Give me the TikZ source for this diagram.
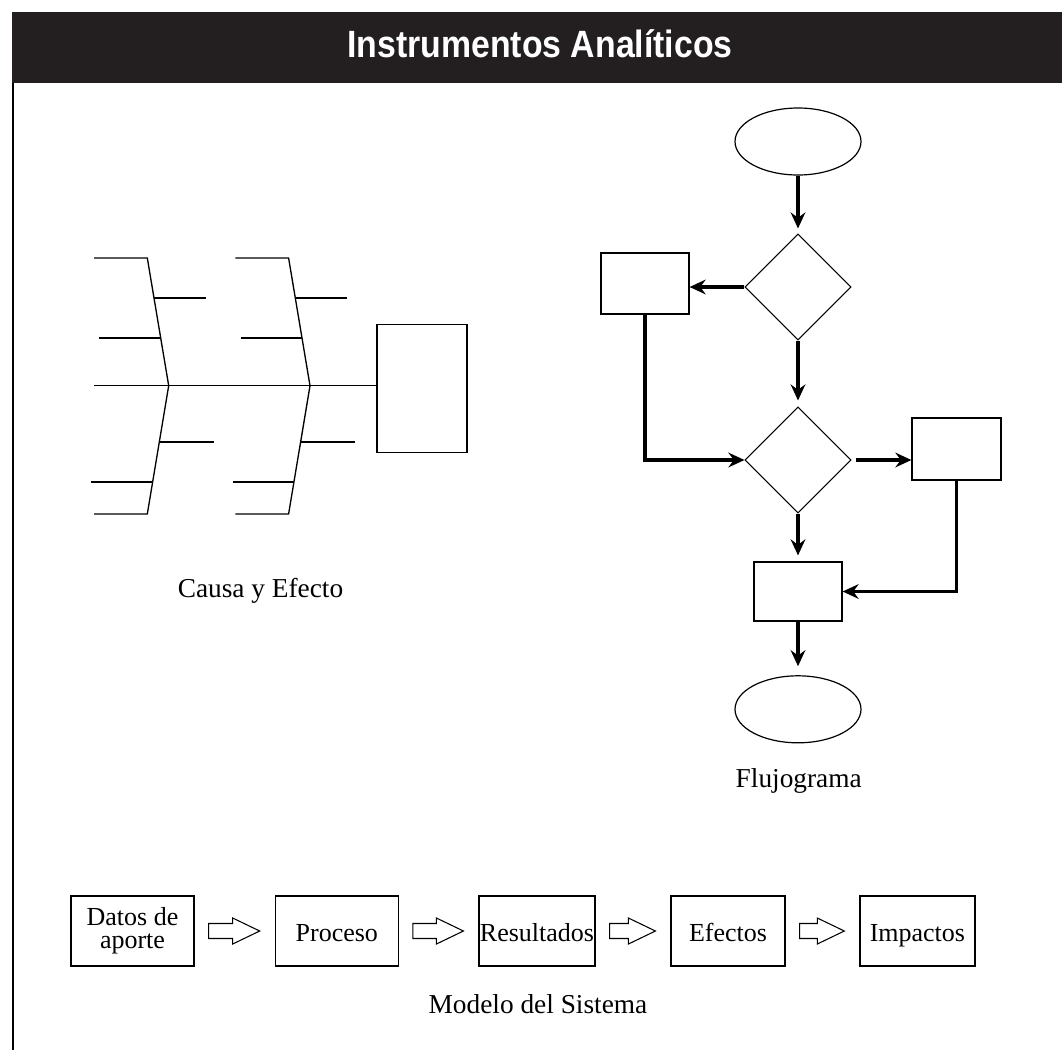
\documentclass[tikz,border=0pt]{standalone}
\usepackage{fontspec}
\setmainfont{Liberation Serif}
\newfontfamily\titulofont{Liberation Sans}
\usepackage{tikz}
\usepackage{tkz-euclide}
\usepackage{xcolor}
\usetikzlibrary{shapes.geometric,arrows.meta,calc}

\definecolor{fundo}{HTML}{231F20}
\newlength{\unid}\setlength{\unid}{0.75pt}

%Seta vazada entre duas caixas do modelo do sistema: comeca 14 unidades depois da primeira caixa e termina 15 unidades antes da segunda
\newcommand{\setaoca}[2]{%
\draw[oca] ($(#1.east)+(14,7.5)$) -- ($(#2.west)+(-42,7.5)$) -- ($(#2.west)+(-42,13)$) -- ($(#2.west)+(-15,0)$) -- ($(#2.west)+(-42,-13)$) -- ($(#2.west)+(-42,-7.5)$) -- ($(#1.east)+(14,-7.5)$) -- cycle;}

\begin{document}
\begin{tikzpicture}[x=0.75pt, y=-0.75pt, %uma unidade = um pixel, eixo y para baixo
linha/.style={line width=1pt},
caixa/.style={draw, line width=0.9pt, rectangle, inner sep=0pt},
losango/.style={draw, line width=0.8pt, diamond, inner sep=0pt, minimum width=106\unid, minimum height=106\unid},
elipse/.style={draw, line width=0.9pt, ellipse, inner sep=0pt, minimum width=126\unid, minimum height=67\unid},
seta/.style={line width=2.4pt, -{Stealth[length=12pt, width=11pt, inset=4pt]}},
texto/.style={font=\fontsize{19.5}{17.5}\selectfont, align=center},
umalinha/.style={text height=16pt, text depth=0pt},
legenda/.style={font=\fontsize{20.5}{24}\selectfont, anchor=base},
oca/.style={draw, line width=0.8pt}]

\useasboundingbox (0,0) rectangle (1062,1050);

%Faixa preta do titulo no alto da pagina e a linha vertical da margem esquerda, que desce ate o fim da figura.
%---------------------------------------------------
\fill[fundo] (12,12) rectangle (1062,83.3);
\draw[line width=1.1pt] (13,83) -- (13,1050);
\node[text=white, anchor=base, font=\titulofont\bfseries\fontsize{28.5}{30}\selectfont] (titulo) at (540,57.3) {\scalebox{0.89}[1]{Instrumentos Analíticos}};
%---------------------------------------------------

%O comando \tkzDefPoints define os pontos da espinha de peixe (x/y/NomedoPonto). O indice 1 e a primeira espinha, o indice 2 a segunda.
\tkzDefPoints{
94/385.7/P,
94/258/A1, 147.3/258/B1, 168.7/385.7/C1, 147.3/514/D1, 94/514/E1,
154/298/F1, 205.7/298/G1, 99.3/338/H1, 160.7/338/J1,
159.3/442/K1, 213.7/442/L1, 91.3/482/M1, 152.6/482/N1,
235.3/258/A2, 288.6/258/B2, 310/385.7/C2, 288.6/514/D2, 235.3/514/E2,
295.3/298/F2, 347/298/G2, 240.6/338/H2, 302/338/J2,
300.6/442/K2, 355/442/L2, 232.6/482/M2, 293.9/482/N2}

%Caixa do efeito na ponta da espinha central.
%---------------------------------------------------
\node[caixa, minimum width=90\unid, minimum height=128\unid] (efeito) at (422,388.7) {};
\draw[linha] (P) -- (P -| efeito.west);
%---------------------------------------------------

%Primeira espinha: a linha quebrada de cima ate embaixo e as quatro costelas.
%---------------------------------------------------
\draw[linha] (A1) -- (B1) -- (C1) -- (D1) -- (E1);
\draw[linha] (F1) -- (G1);
\draw[linha] (H1) -- (J1);
\draw[linha] (K1) -- (L1);
\draw[linha] (M1) -- (N1);
%---------------------------------------------------

%Segunda espinha, igual a primeira e deslocada para a direita.
%---------------------------------------------------
\draw[linha] (A2) -- (B2) -- (C2) -- (D2) -- (E2);
\draw[linha] (F2) -- (G2);
\draw[linha] (H2) -- (J2);
\draw[linha] (K2) -- (L2);
\draw[linha] (M2) -- (N2);
%---------------------------------------------------

\node[legenda] (causa) at (260.5,597.3) {Causa y Efecto};

%Fluxograma: elipses de inicio e fim, dois losangos de decisao e tres caixas.
%---------------------------------------------------
\node[elipse] (inicio) at (798,141.5) {};
\node[losango] (decisao1) at (798,287) {};
\node[caixa, minimum width=88\unid, minimum height=61\unid] (caixa1) at (645,283.5) {};
\node[losango] (decisao2) at (798,460) {};
\node[caixa, minimum width=89\unid, minimum height=62\unid] (caixa2) at (956.5,449) {};
\node[caixa, minimum width=88\unid, minimum height=59\unid] (caixa3) at (798,591.5) {};
\node[elipse] (fim) at (798,709.3) {};
%---------------------------------------------------

%Setas do fluxograma, grossas e com ponta Stealth. Algumas param um pouco antes do elemento (shorten).
%---------------------------------------------------
\draw[seta, shorten >=5\unid] (inicio) -- (decisao1);
\draw[seta] (decisao1.west) -- (decisao1.west -| caixa1.east);
\draw[seta] (caixa1.south) |- (decisao2.west);
\draw[seta, shorten >=6\unid] (decisao1.south) -- (decisao2.north);
\draw[seta, shorten <=4\unid] (decisao2.east) -- (decisao2.east -| caixa2.west);
\draw[seta] (caixa2.south) |- (caixa3.east);
\draw[seta, shorten >=6\unid] (decisao2.south) -- (caixa3.north);
\draw[seta, shorten >=9\unid] (caixa3.south) -- (fim.north);
%---------------------------------------------------

\node[legenda] (fluxo) at (798.7,787.3) {Flujograma};

%Modelo do sistema: cinco caixas em linha ligadas por setas vazadas.
%---------------------------------------------------
\node[caixa, texto, minimum width=123\unid, minimum height=70\unid] (dados) at (132.5,931) {Datos de\\aporte};
\node[caixa, texto, umalinha, minimum width=123\unid, minimum height=70\unid] (processo) at (336.8,931) {Proceso};
\node[caixa, texto, umalinha, minimum width=116\unid, minimum height=70\unid] (resultados) at (537,931) {Resultados};
\node[caixa, texto, umalinha, minimum width=114\unid, minimum height=70\unid] (efeitos) at (728,931) {Efectos};
\node[caixa, texto, umalinha, minimum width=115\unid, minimum height=70\unid] (impactos) at (917.4,931) {Impactos};
\setaoca{dados}{processo}
\setaoca{processo}{resultados}
\setaoca{resultados}{efeitos}
\setaoca{efeitos}{impactos}
%---------------------------------------------------

\node[legenda] (modelo) at (538,1013) {Modelo del Sistema};

\end{tikzpicture}
\end{document}
